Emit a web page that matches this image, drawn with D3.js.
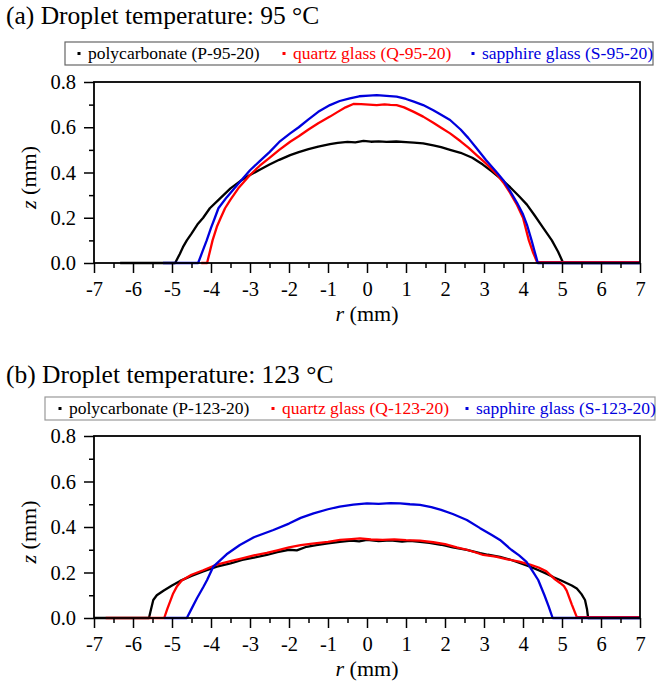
<!DOCTYPE html>
<html>
<head>
<meta charset="utf-8">
<script src="https://cdn.jsdelivr.net/npm/d3@7"></script>
<style>
  body { margin: 0; background: #fff; }
  svg text { font-family: "Liberation Serif", "Times New Roman", "DejaVu Serif", serif; }
</style>
</head>
<body>
<svg id="canvas" width="657" height="681"></svg>
<script>
// tick values
let rTicks = [-7, -6, -5, -4, -3, -2, -1, 0, 1, 2, 3, 4, 5, 6, 7];
let rMinor = [-6.5, -5.5, -4.5, -3.5, -2.5, -1.5, -0.5, 0.5, 1.5, 2.5, 3.5, 4.5, 5.5, 6.5];
let zTicks = [0.0, 0.2, 0.4, 0.6, 0.8];
let zMinor = [0.1, 0.3, 0.5, 0.7];

// (a) droplet 95 °C, [r, z] in mm
let p95 = [[-6.33,0],[-5.5,0],[-4.92,0],[-4.8,0.04],[-4.72,0.07],[-4.62,0.10],[-4.5,0.13],[-4.35,0.17],[-4.2,0.20],[-4.03,0.242],[-3.8,0.28],[-3.5,0.33],[-3.25,0.362],[-3.0,0.389],[-2.75,0.412],[-2.5,0.435],[-2.25,0.456],[-1.97,0.477],[-1.75,0.49],[-1.5,0.503],[-1.25,0.514],[-0.95,0.525],[-0.75,0.531],[-0.5,0.535],[-0.3,0.533],[-0.09,0.54],[0.1,0.536],[0.3,0.538],[0.5,0.535],[0.75,0.537],[1.0,0.534],[1.2,0.532],[1.44,0.529],[1.7,0.52],[1.9,0.512],[2.13,0.50],[2.4,0.487],[2.7,0.465],[2.97,0.435],[3.2,0.405],[3.45,0.37],[3.67,0.335],[3.9,0.295],[4.1,0.258],[4.3,0.21],[4.5,0.16],[4.74,0.10],[4.9,0.05],[5.03,0],[7,0]];
let q95 = [[-4.25,0],[-4.1,0],[-4.03,0.05],[-3.96,0.10],[-3.85,0.16],[-3.75,0.20],[-3.64,0.242],[-3.5,0.28],[-3.3,0.33],[-3.0,0.389],[-2.75,0.43],[-2.5,0.465],[-2.25,0.50],[-1.97,0.536],[-1.75,0.56],[-1.5,0.59],[-1.25,0.618],[-0.95,0.647],[-0.75,0.668],[-0.55,0.688],[-0.35,0.703],[-0.15,0.702],[0.05,0.700],[0.25,0.698],[0.45,0.701],[0.6,0.699],[0.76,0.698],[0.95,0.688],[1.2,0.668],[1.44,0.647],[1.7,0.62],[1.9,0.598],[2.13,0.573],[2.4,0.538],[2.6,0.51],[2.81,0.477],[3.05,0.44],[3.33,0.392],[3.5,0.355],[3.67,0.31],[3.85,0.255],[4.0,0.20],[4.15,0.10],[4.25,0.05],[4.36,0.004],[7,0.004]];
let s95 = [[-5.23,0],[-4.33,0],[-4.22,0.05],[-4.11,0.10],[-4.0,0.155],[-3.9,0.20],[-3.81,0.242],[-3.6,0.29],[-3.3,0.35],[-3.0,0.41],[-2.75,0.45],[-2.5,0.49],[-2.25,0.535],[-1.97,0.573],[-1.75,0.60],[-1.5,0.635],[-1.25,0.668],[-0.95,0.698],[-0.7,0.716],[-0.44,0.728],[-0.2,0.737],[0.05,0.74],[0.25,0.742],[0.5,0.739],[0.76,0.735],[1.0,0.725],[1.2,0.713],[1.44,0.698],[1.7,0.675],[1.9,0.655],[2.13,0.632],[2.4,0.59],[2.6,0.552],[2.81,0.507],[3.05,0.455],[3.33,0.40],[3.5,0.365],[3.67,0.318],[3.85,0.265],[4.0,0.215],[4.1,0.17],[4.22,0.10],[4.3,0.05],[4.38,0],[7,0]];

// (b) droplet 123 °C
let p123 = [[-7,0],[-5.59,0],[-5.55,0.03],[-5.48,0.079],[-5.39,0.10],[-5.22,0.12],[-5.0,0.143],[-4.79,0.163],[-4.5,0.185],[-4.2,0.205],[-3.85,0.226],[-3.5,0.24],[-3.2,0.255],[-2.9,0.265],[-2.57,0.277],[-2.3,0.29],[-2.0,0.30],[-1.8,0.297],[-1.55,0.313],[-1.3,0.32],[-1.0,0.328],[-0.7,0.335],[-0.4,0.34],[-0.2,0.337],[0.0,0.343],[0.3,0.338],[0.6,0.341],[0.9,0.336],[1.1,0.339],[1.36,0.335],[1.6,0.33],[1.9,0.322],[2.2,0.31],[2.56,0.299],[2.9,0.285],[3.1,0.278],[3.41,0.269],[3.7,0.255],[3.95,0.24],[4.18,0.226],[4.4,0.21],[4.6,0.195],[4.8,0.178],[4.95,0.167],[5.1,0.155],[5.25,0.143],[5.38,0.13],[5.5,0.105],[5.59,0.079],[5.64,0.04],[5.67,0],[7,0]];
let q123 = [[-6.7,0],[-5.2,0],[-5.12,0.04],[-4.97,0.108],[-4.87,0.14],[-4.75,0.165],[-4.5,0.19],[-4.2,0.21],[-3.85,0.235],[-3.5,0.25],[-3.2,0.262],[-2.9,0.275],[-2.57,0.286],[-2.3,0.297],[-2.0,0.31],[-1.7,0.32],[-1.4,0.327],[-1.0,0.335],[-0.69,0.343],[-0.4,0.347],[-0.18,0.35],[0.1,0.345],[0.4,0.343],[0.7,0.346],[1.0,0.342],[1.36,0.34],[1.7,0.333],[2.0,0.325],[2.3,0.31],[2.56,0.30],[2.75,0.29],[2.98,0.277],[3.3,0.27],[3.6,0.258],[3.9,0.248],[4.18,0.235],[4.4,0.222],[4.6,0.205],[4.82,0.17],[4.95,0.154],[5.05,0.14],[5.12,0.12],[5.25,0.06],[5.38,0.004],[7,0.004]];
let s123 = [[-5.2,0],[-4.62,0],[-4.5,0.04],[-4.36,0.087],[-4.2,0.135],[-4.1,0.167],[-3.94,0.226],[-3.6,0.28],[-3.26,0.321],[-2.9,0.355],[-2.4,0.387],[-2.0,0.415],[-1.7,0.44],[-1.37,0.46],[-1.0,0.478],[-0.7,0.49],[-0.35,0.498],[0.0,0.504],[0.3,0.502],[0.6,0.505],[0.85,0.504],[1.1,0.50],[1.36,0.497],[1.65,0.487],[1.9,0.475],[2.2,0.457],[2.56,0.431],[2.9,0.395],[3.2,0.365],[3.41,0.343],[3.7,0.30],[3.9,0.275],[4.09,0.247],[4.25,0.205],[4.39,0.167],[4.55,0.10],[4.66,0.05],[4.76,0],[7,0]];

let names95 = ['polycarbonate (P-95-20)', 'quartz glass (Q-95-20)', 'sapphire glass (S-95-20)'];
let names123 = ['polycarbonate (P-123-20)', 'quartz glass (Q-123-20)', 'sapphire glass (S-123-20)'];
let colors = ['#000000', '#ff0000', '#0000dd'];
let serif = '"Liberation Serif", "Times New Roman", "DejaVu Serif", serif';

let svg = d3.select('#canvas');

let drawPanel = (cfg) => {
    let x = d3.scaleLinear().domain([-7, 7]).range([94, 640]);
    let y = d3.scaleLinear().domain([0, 0.8]).range([cfg.bottom, cfg.top]);

    svg.append('text')
        .attr('x', 6).attr('y', cfg.titleY)
        .attr('font-family', serif)
        .attr('font-size', 25.5)
        .text(cfg.title);

    // legend
    let lg = svg.append('g');
    lg.append('rect')
        .attr('x', cfg.legX).attr('y', cfg.legY)
        .attr('width', cfg.legW).attr('height', 23)
        .attr('fill', 'none').attr('stroke', cfg.legStroke).attr('stroke-width', 1.2);
    cfg.names.forEach((name, i) => {
        lg.append('rect')
            .attr('x', cfg.legItems[i] - 1.5).attr('y', cfg.legY + 10)
            .attr('width', 3).attr('height', 3)
            .attr('fill', colors[i]);
        lg.append('text')
            .attr('x', cfg.legItems[i] + 9).attr('y', cfg.legY + 17)
            .attr('font-family', serif)
            .attr('font-size', 17.5)
            .attr('fill', colors[i])
            .text(name);
    });

    // curves
    let line = d3.line().x(d => x(d[0])).y(d => y(d[1]));
    cfg.series.forEach((s, i) => {
        svg.append('path')
            .datum(s)
            .attr('d', line)
            .attr('fill', 'none')
            .attr('stroke', colors[i])
            .attr('stroke-width', 2.3)
            .attr('stroke-linejoin', 'round');
    });

    // axes
    let xAxis = svg.append('g')
        .attr('transform', `translate(0,${cfg.bottom})`)
        .call(d3.axisBottom(x).tickValues(rTicks).tickSize(10).tickPadding(8)
            .tickFormat(d => String(d)));
    svg.append('g')
        .attr('transform', `translate(0,${cfg.bottom})`)
        .call(d3.axisBottom(x).tickValues(rMinor).tickSize(5).tickFormat(''));
    let yAxis = svg.append('g')
        .attr('transform', 'translate(94,0)')
        .call(d3.axisLeft(y).tickValues(zTicks).tickSize(10).tickPadding(8)
            .tickFormat(d3.format('.1f')));
    svg.append('g')
        .attr('transform', 'translate(94,0)')
        .call(d3.axisLeft(y).tickValues(zMinor).tickSize(5).tickFormat(''));

    svg.selectAll('.domain').remove();
    svg.selectAll('.tick line').attr('stroke', '#000').attr('stroke-width', 1.5);
    [xAxis, yAxis].forEach(ax => {
        ax.attr('font-family', serif);
        ax.selectAll('text').attr('font-size', 20.5).attr('fill', '#000')
            .attr('font-family', serif);
    });

    // frame
    svg.append('rect')
        .attr('x', 94).attr('y', cfg.top)
        .attr('width', 546).attr('height', cfg.bottom - cfg.top)
        .attr('fill', 'none').attr('stroke', '#000').attr('stroke-width', 1.8);

    // axis titles
    let xt = svg.append('text')
        .attr('x', 367).attr('y', cfg.bottom + 58)
        .attr('text-anchor', 'middle')
        .attr('font-family', serif)
        .attr('font-size', 22);
    xt.append('tspan').attr('font-style', 'italic').text('r');
    xt.append('tspan').text(' (mm)');

    let yt = svg.append('text')
        .attr('transform', `translate(36,${(cfg.top + cfg.bottom) / 2 + 5}) rotate(-90)`)
        .attr('text-anchor', 'middle')
        .attr('font-family', serif)
        .attr('font-size', 22);
    yt.append('tspan').attr('font-style', 'italic').text('z');
    yt.append('tspan').text(' (mm)');
};

drawPanel({
    top: 82, bottom: 263, titleY: 24,
    title: '(a) Droplet temperature: 95 °C',
    legX: 65, legY: 42, legW: 588, legItems: [79, 284, 473], legStroke: '#666',
    names: names95, series: [p95, q95, s95]
});

drawPanel({
    top: 436, bottom: 618, titleY: 383,
    title: '(b) Droplet temperature: 123 °C',
    legX: 45, legY: 397, legW: 610, legItems: [60, 273, 467], legStroke: '#999',
    names: names123, series: [p123, q123, s123]
});
</script>
</body>
</html>
